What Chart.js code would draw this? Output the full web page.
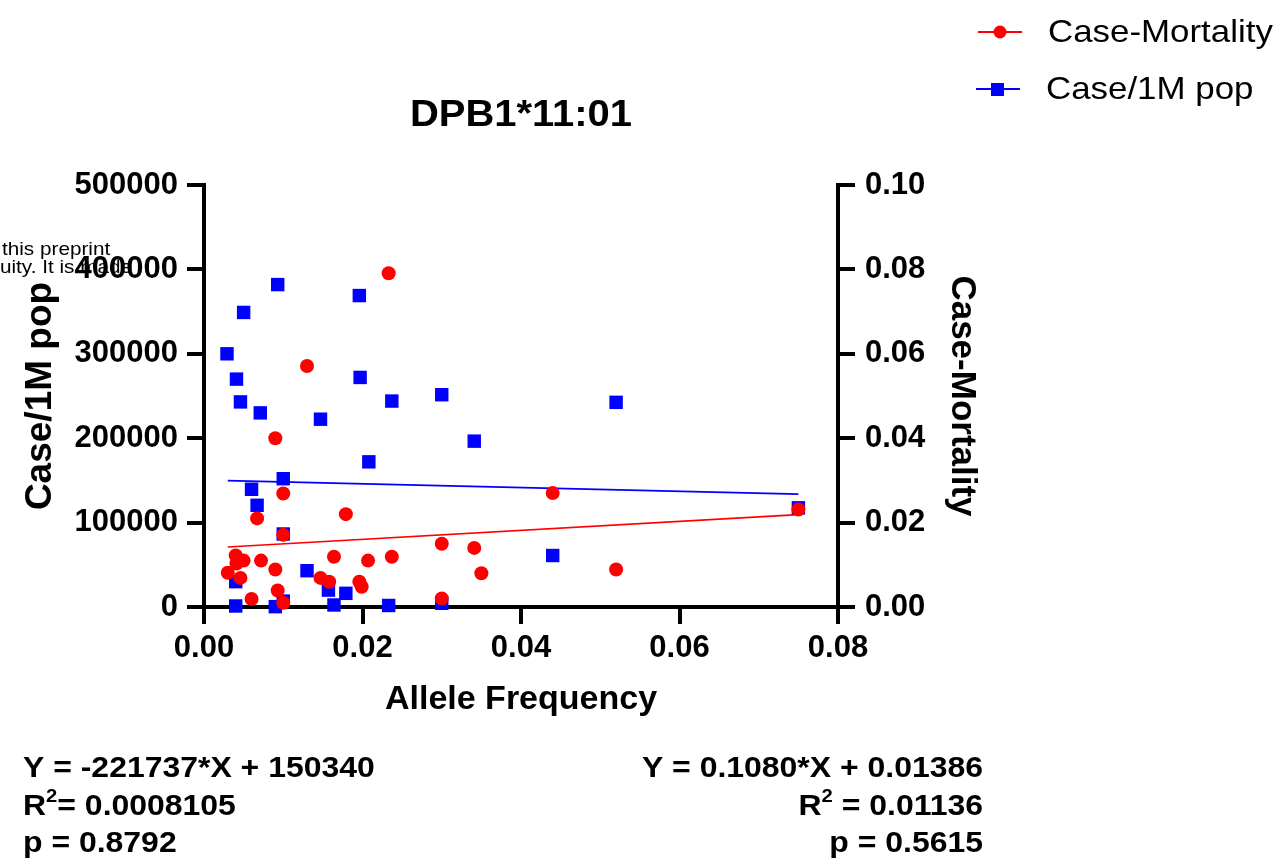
<!DOCTYPE html>
<html>
<head>
<meta charset="utf-8">
<script src="https://cdn.jsdelivr.net/npm/chart.js@4.4.1/dist/chart.umd.min.js"></script>
<style>
  html, body { margin: 0; padding: 0; background: #fff; }
  canvas { display: block; }
</style>
</head>
<body>
<canvas id="c" width="1280" height="865"></canvas>
<script>
// ---- data ----
const chartTitle = 'DPB1*11:01';
const xTitle = 'Allele Frequency';
const leftTitle = 'Case/1M pop';
const rightTitle = 'Case-Mortality';

const xTickLabels = ['0.00', '0.02', '0.04', '0.06', '0.08'];
const leftTickLabels = ['0', '100000', '200000', '300000', '400000', '500000'];
const rightTickLabels = ['0.00', '0.02', '0.04', '0.06', '0.08', '0.10'];

// Case/1M pop (blue squares, left axis)
const popX = [0.0029, 0.0040, 0.0040, 0.0041, 0.0046, 0.0050, 0.0060, 0.0067, 0.0071, 0.0090,
              0.0093, 0.0100, 0.0100, 0.0100, 0.0130, 0.0147, 0.0157, 0.0164, 0.0179, 0.0196,
              0.0197, 0.0208, 0.0233, 0.0237, 0.0300, 0.0300, 0.0341, 0.0440, 0.0520, 0.0750];
const popY = [300000, 30000, 1200, 270000, 243000, 349000, 139500, 120500, 230000, 400,
              382000, 152000, 86500, 7000, 43000, 222500, 20000, 2400, 16200, 369000,
              272000, 172000, 1800, 244000, 251500, 4400, 196500, 61000, 242500, 117500];

// Case-Mortality (red circles, right axis)
const mortX = [0.0030, 0.0040, 0.0041, 0.0046, 0.0050, 0.0060, 0.0067, 0.0072, 0.0090, 0.0090,
               0.0093, 0.0100, 0.0100, 0.0100, 0.0130, 0.0147, 0.0158, 0.0164, 0.0179, 0.0196,
               0.0199, 0.0207, 0.0233, 0.0237, 0.0300, 0.0300, 0.0341, 0.0350, 0.0440, 0.0520, 0.0750];
const mortY = [0.0081, 0.0122, 0.0103, 0.0069, 0.0110, 0.0019, 0.0210, 0.0110, 0.0400, 0.0089,
               0.0039, 0.0269, 0.0171, 0.0010, 0.0571, 0.0069, 0.0060, 0.0119, 0.0220, 0.0060,
               0.0048, 0.0110, 0.0791, 0.0119, 0.0150, 0.0020, 0.0140, 0.0080, 0.0270, 0.0089, 0.0231];

// fitted lines (end points)
const popFitX = [0.003, 0.075];
const popFitY = [149700, 133700];
const mortFitX = [0.003, 0.075];
const mortFitY = [0.0142, 0.0219];

// regression annotation text
const leftEq = ['Y = -221737*X + 150340', '0.0008105', 'p = 0.8792'];
const rightEq = ['Y = 0.1080*X + 0.01386', '0.01136', 'p = 0.5615'];

const watermark = ['this preprint', 'uity. It is made'];

// ---- chart ----
const FONT = '"Liberation Sans", Arial, Helvetica, sans-serif';
Chart.defaults.font.family = FONT;
Chart.defaults.color = '#000';

const toPts = (xs, ys) => xs.map((x, i) => ({x: x, y: ys[i]}));

const RED = '#ff0000';
const BLUE = '#0000ff';

// draw text with a slight horizontal stretch (the reference glyphs are wide)
function txt(ctx, s, x, y, font, align, sx) {
  ctx.save();
  ctx.font = font;
  ctx.textAlign = align;
  ctx.translate(x, y);
  ctx.scale(sx, 1);
  ctx.fillText(s, 0, 0);
  const w = ctx.measureText(s).width * sx;
  ctx.restore();
  return w;
}
function width(ctx, s, font, sx) {
  ctx.save(); ctx.font = font;
  const w = ctx.measureText(s).width * sx;
  ctx.restore();
  return w;
}

const extras = {
  id: 'extras',
  beforeDraw(chart) {
    const ctx = chart.ctx;
    ctx.save();
    ctx.fillStyle = '#fff';
    ctx.fillRect(0, 0, chart.width, chart.height);
    ctx.fillStyle = '#000';
    ctx.textBaseline = 'alphabetic';
    txt(ctx, watermark[0], 2, 255, '19px ' + FONT, 'left', 1.09);
    txt(ctx, watermark[1], 0, 273, '19px ' + FONT, 'left', 1.09);
    ctx.restore();
  },
  afterDraw(chart) {
    const ctx = chart.ctx;
    ctx.save();
    ctx.fillStyle = '#000';
    const ca = chart.chartArea;
    // title
    ctx.textBaseline = 'middle';
    txt(ctx, chartTitle, (ca.left + ca.right) / 2, 116, 'bold 37px ' + FONT, 'center', 1.08);

    // legend
    const lf = '32px ' + FONT;
    ctx.strokeStyle = RED; ctx.lineWidth = 2;
    ctx.beginPath(); ctx.moveTo(978, 32); ctx.lineTo(1022, 32); ctx.stroke();
    ctx.fillStyle = RED;
    ctx.beginPath(); ctx.arc(1000, 32, 6.5, 0, Math.PI * 2); ctx.fill();
    ctx.fillStyle = '#000';
    txt(ctx, rightTitle, 1048, 33, lf, 'left', 1.09);
    ctx.strokeStyle = BLUE;
    ctx.beginPath(); ctx.moveTo(976, 89); ctx.lineTo(1020, 89); ctx.stroke();
    ctx.fillStyle = BLUE;
    ctx.fillRect(991, 83, 13, 13);
    ctx.fillStyle = '#000';
    txt(ctx, leftTitle, 1046, 90, lf, 'left', 1.09);

    // equations
    const sx = 1.065;
    const bigF = 'bold 30px ' + FONT;
    const supF = 'bold 19px ' + FONT;
    const base = [777, 815, 852];
    ctx.textBaseline = 'alphabetic';
    // left block
    txt(ctx, leftEq[0], 23, base[0], bigF, 'left', sx);
    let x = 23;
    x += txt(ctx, 'R', x, base[1], bigF, 'left', sx);
    x += txt(ctx, '2', x, base[1] - 13, supF, 'left', sx);
    txt(ctx, '= ' + leftEq[1], x, base[1], bigF, 'left', sx);
    txt(ctx, leftEq[2], 23, base[2], bigF, 'left', sx);
    // right block
    const R = 983;
    txt(ctx, rightEq[0], R, base[0], bigF, 'right', sx);
    txt(ctx, rightEq[2], R, base[2], bigF, 'right', sx);
    const tail = ' = ' + rightEq[1];
    const wTail = txt(ctx, tail, R, base[1], bigF, 'right', sx);
    const w2 = txt(ctx, '2', R - wTail, base[1] - 13, supF, 'right', sx);
    txt(ctx, 'R', R - wTail - w2, base[1], bigF, 'right', sx);
    ctx.restore();
  }
};

new Chart(document.getElementById('c'), {
  type: 'scatter',
  data: {
    datasets: [
      {
        label: rightTitle,
        data: toPts(mortX, mortY),
        yAxisID: 'y1',
        pointStyle: 'circle',
        pointRadius: 7,
        pointHoverRadius: 7,
        backgroundColor: RED,
        borderColor: RED,
        borderWidth: 0,
        clip: false,
        order: 0
      },
      {
        label: leftTitle,
        data: toPts(popX, popY),
        yAxisID: 'y',
        pointStyle: 'rect',
        pointRadius: 9.5,
        pointHoverRadius: 9.5,
        backgroundColor: BLUE,
        borderColor: BLUE,
        borderWidth: 0,
        clip: false,
        order: 1
      },
      {
        label: 'fit-mort',
        data: toPts(mortFitX, mortFitY),
        yAxisID: 'y1',
        showLine: true,
        pointRadius: 0,
        borderColor: RED,
        borderWidth: 1.6,
        fill: false,
        order: 2
      },
      {
        label: 'fit-pop',
        data: toPts(popFitX, popFitY),
        yAxisID: 'y',
        showLine: true,
        pointRadius: 0,
        borderColor: BLUE,
        borderWidth: 1.6,
        fill: false,
        order: 3
      }
    ]
  },
  options: {
    responsive: false,
    animation: false,
    devicePixelRatio: 1,
    layout: { padding: { left: 0, top: 185, right: 295, bottom: 145 } },
    plugins: {
      legend: { display: false },
      tooltip: { enabled: false },
      title: { display: false }
    },
    scales: {
      x: {
        type: 'linear',
        min: 0, max: 0.08,
        ticks: {
          stepSize: 0.02,
          font: { size: 31, weight: 'bold' },
          color: '#000',
          padding: 6,
          maxRotation: 0,
          callback: (v, i) => xTickLabels[i]
        },
        grid: { display: true, drawOnChartArea: false, drawTicks: true, tickLength: 17, tickWidth: 4, tickColor: '#000', lineWidth: 4 },
        border: { display: true, color: '#000', width: 4 },
        title: { display: true, text: xTitle, font: { size: 34, weight: 'bold' }, color: '#000', padding: { top: 0, bottom: 0 } },
        afterFit: s => { s.height = 113; }
      },
      y: {
        type: 'linear',
        position: 'left',
        min: 0, max: 500000,
        ticks: {
          stepSize: 100000,
          font: { size: 31, weight: 'bold' },
          color: '#000',
          padding: 9,
          callback: (v, i) => leftTickLabels[i]
        },
        grid: { display: true, drawOnChartArea: false, drawTicks: true, tickLength: 17, tickWidth: 4, tickColor: '#000', lineWidth: 4 },
        border: { display: true, color: '#000', width: 4 },
        title: { display: true, text: leftTitle, font: { size: 37, weight: 'bold' }, color: '#000', padding: { top: 19, bottom: 0 } },
        afterFit: s => { s.width = 204; }
      },
      y1: {
        type: 'linear',
        position: 'right',
        min: 0, max: 0.1,
        ticks: {
          stepSize: 0.02,
          font: { size: 31, weight: 'bold' },
          color: '#000',
          padding: 10,
          callback: (v, i) => rightTickLabels[i]
        },
        grid: { display: true, drawOnChartArea: false, drawTicks: true, tickLength: 17, tickWidth: 4, tickColor: '#000', lineWidth: 4 },
        border: { display: true, color: '#000', width: 4 },
        title: { display: true, text: rightTitle, font: { size: 35, weight: 'bold' }, color: '#000', padding: { top: 2, bottom: 0 } },
        afterFit: s => { s.width = 147; }
      }
    }
  },
  plugins: [extras]
});
</script>
</body>
</html>
